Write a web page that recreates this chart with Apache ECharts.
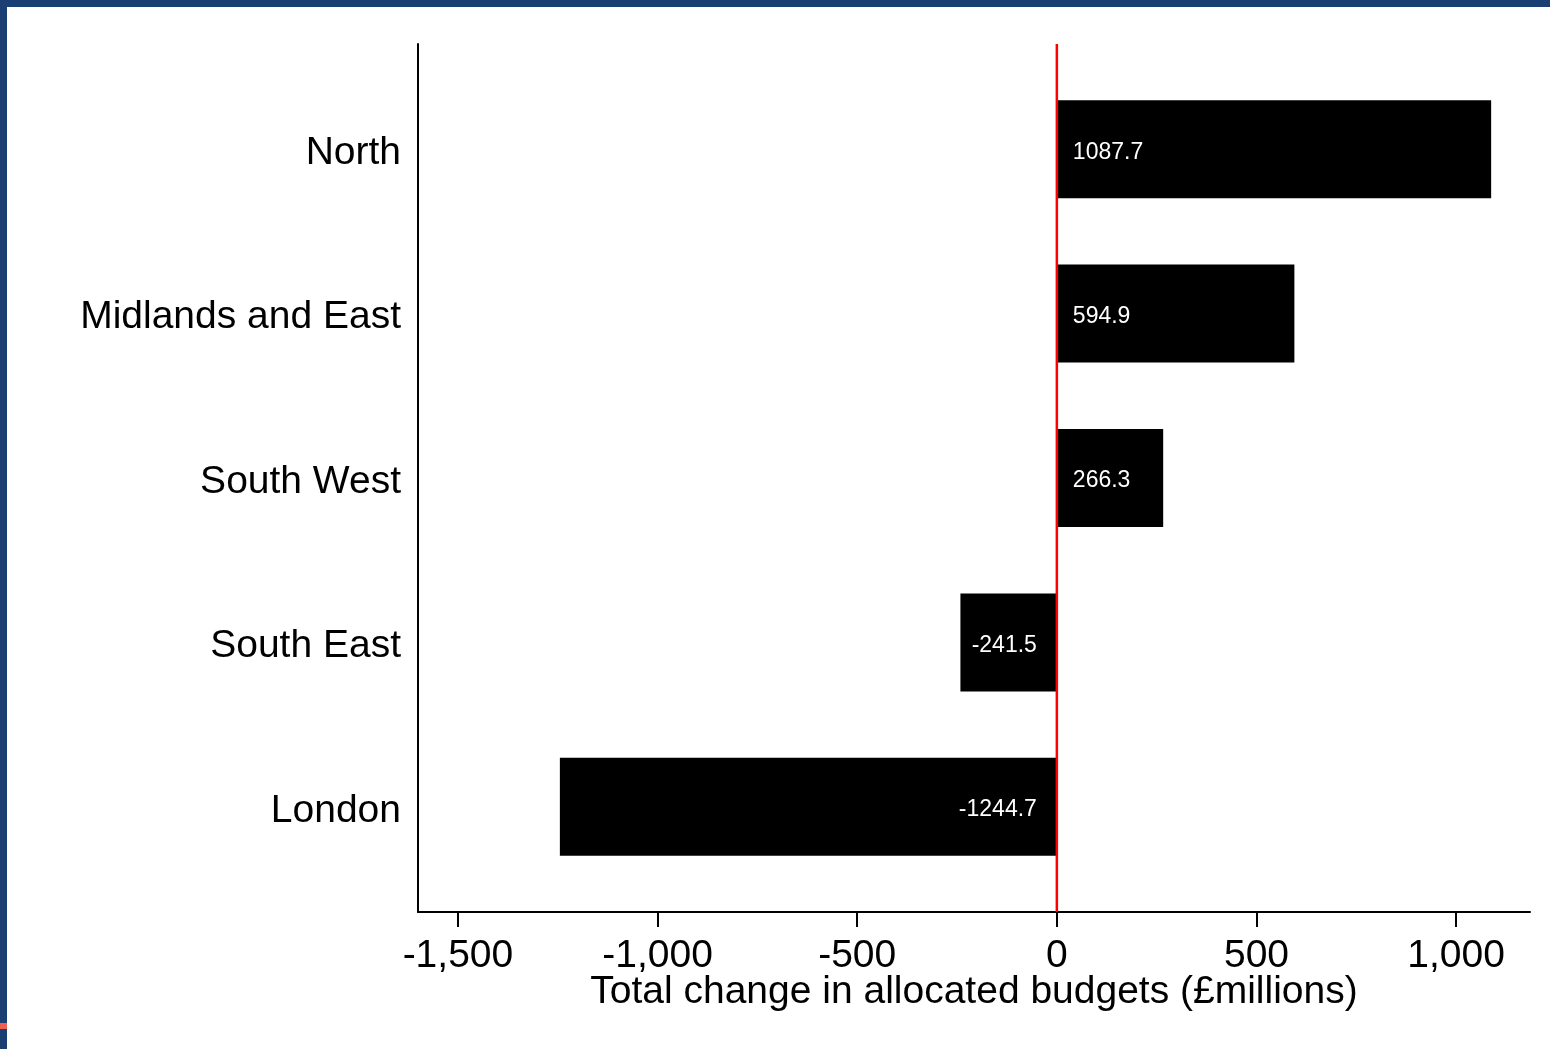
<!DOCTYPE html>
<html>
<head>
<meta charset="utf-8">
<script src="https://cdn.jsdelivr.net/npm/echarts@6/dist/echarts.min.js"></script>
<style>
  html, body {
    margin: 0;
    padding: 0;
    background: #ffffff;
  }
  .frame {
    position: relative;
    width: 1550px;
    height: 1049px;
    box-sizing: border-box;
    border-top: 7px solid #1b3e73;
    border-left: 7px solid #1b3e73;
  }
  .frame .mark {
    position: absolute;
    left: -7px;
    top: 1016px;
    width: 7px;
    height: 6px;
    background: #ef5f4f;
  }
  #chart {
    position: absolute;
    left: -7px;
    top: -7px;
    width: 1550px;
    height: 1049px;
  }
</style>
</head>
<body>
<div class="frame">
  <div class="mark"></div>
  <div id="chart"></div>
</div>
<script>
const regions = ['North', 'Midlands and East', 'South West', 'South East', 'London']
const budgetChange = [1087.7, 594.9, 266.3, -241.5, -1244.7]
const tickValues = [-1500, -1000, -500, 0, 500, 1000]
const axisTitle = 'Total change in allocated budgets (£millions)'

const FONT = '"Liberation Sans", Arial, sans-serif'
const X_MIN = -1600
const X_MAX = 1185

const myChart = echarts.init(document.getElementById('chart'))

const option = {
  animation: false,
  textStyle: {fontFamily: FONT},
  grid: [
    // outer frame: axis lines, ticks, zero line
    {left: 418, right: 20, top: 44, bottom: 137},
    // inner area for the bars
    {left: 418, right: 20, top: 67, bottom: 160}
  ],
  xAxis: [
    {
      gridIndex: 0,
      type: 'value',
      min: X_MIN,
      max: X_MAX,
      name: axisTitle,
      nameLocation: 'middle',
      nameGap: 61,
      nameMoveOverlap: false,
      nameTextStyle: {color: '#000', fontSize: 39, fontFamily: FONT},
      axisLine: {show: true, onZero: false, lineStyle: {color: '#000', width: 2}},
      axisTick: {show: true, length: 15, lineStyle: {color: '#000', width: 2}, customValues: tickValues},
      axisLabel: {
        color: '#000',
        fontSize: 39,
        fontFamily: FONT,
        margin: 25,
        customValues: tickValues,
        formatter: (val) => Number(val).toLocaleString('en-US')
      },
      splitLine: {show: false}
    },
    {
      gridIndex: 1,
      type: 'value',
      min: X_MIN,
      max: X_MAX,
      show: false
    }
  ],
  yAxis: [
    {
      gridIndex: 0,
      type: 'value',
      min: 0,
      max: 1,
      axisLine: {show: true, onZero: false, lineStyle: {color: '#000', width: 2}},
      axisTick: {show: false},
      axisLabel: {show: false},
      splitLine: {show: false}
    },
    {
      gridIndex: 1,
      type: 'category',
      inverse: true,
      data: regions,
      axisLine: {show: false},
      axisTick: {show: false},
      axisLabel: {
        color: '#000',
        fontSize: 39,
        fontFamily: FONT,
        margin: 17,
        formatter: (name) => `{n|${name}}`,
        rich: {n: {color: '#000', fontSize: 39, fontFamily: FONT, padding: [8, 0, 0, 0]}}
      },
      splitLine: {show: false}
    }
  ],
  series: [
    {
      type: 'bar',
      xAxisIndex: 1,
      yAxisIndex: 1,
      barWidth: 98,
      itemStyle: {color: '#000'},
      data: budgetChange.map(v => ({
        value: v,
        label: {
          show: true,
          position: v >= 0 ? 'insideLeft' : 'insideRight',
          distance: v >= 0 ? 16 : 20
        }
      })),
      label: {
        color: '#fff',
        fontSize: 23,
        fontFamily: FONT,
        offset: [0, 3],
        formatter: (p) => p.value.toFixed(1)
      }
    },
    {
      // red reference line at zero
      type: 'line',
      xAxisIndex: 0,
      yAxisIndex: 0,
      showSymbol: false,
      silent: true,
      z: 5,
      lineStyle: {color: '#ff0000', width: 2.5},
      data: [[0, 0], [0, 1]]
    }
  ]
}

myChart.setOption(option)
</script>
</body>
</html>
